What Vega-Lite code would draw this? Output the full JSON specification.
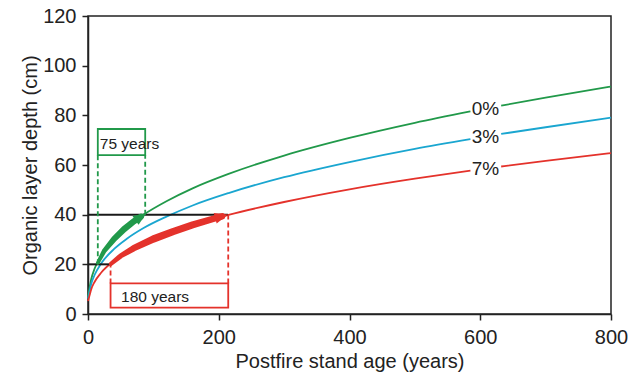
{
  "$schema": "https://vega.github.io/schema/vega-lite/v6.json",
  "width": 523,
  "height": 298,
  "autosize": "none",
  "padding": {"left": 88, "top": 16, "right": 28, "bottom": 63},
  "background": "white",
  "config": {
    "view": {"stroke": "#222", "strokeWidth": 1.5},
    "font": "Liberation Sans",
    "axis": {
      "grid": false, "domainColor": "#222", "domainWidth": 1.5,
      "tickColor": "#222", "tickWidth": 1.5, "tickSize": 6,
      "labelFont": "Liberation Sans", "labelFontSize": 20, "labelColor": "#222",
      "labelPadding": 6, "labelFlush": false,
      "titleFont": "Liberation Sans", "titleFontSize": 20, "titleFontWeight": "normal", "titleColor": "#222"
    }
  },
  "datasets": {
    "curves": [
      {"series": "0%", "seg": "a", "age": 0, "depth": 7.0},
      {"series": "0%", "seg": "a", "age": 2, "depth": 10.0},
      {"series": "0%", "seg": "a", "age": 5, "depth": 14.1},
      {"series": "0%", "seg": "a", "age": 10, "depth": 18.2},
      {"series": "0%", "seg": "a", "age": 20, "depth": 23.5},
      {"series": "0%", "seg": "a", "age": 40, "depth": 30.3},
      {"series": "0%", "seg": "a", "age": 60, "depth": 35.2},
      {"series": "0%", "seg": "a", "age": 85, "depth": 40.0},
      {"series": "0%", "seg": "a", "age": 120, "depth": 45.4},
      {"series": "0%", "seg": "a", "age": 160, "depth": 50.6},
      {"series": "0%", "seg": "a", "age": 215, "depth": 56.4},
      {"series": "0%", "seg": "a", "age": 300, "depth": 63.8},
      {"series": "0%", "seg": "a", "age": 400, "depth": 70.9},
      {"series": "0%", "seg": "a", "age": 500, "depth": 77.0},
      {"series": "0%", "seg": "a", "age": 585, "depth": 81.6},
      {"series": "0%", "seg": "b", "age": 632, "depth": 83.9},
      {"series": "0%", "seg": "b", "age": 700, "depth": 87.1},
      {"series": "0%", "seg": "b", "age": 800, "depth": 91.6},
      {"series": "3%", "seg": "a", "age": 0, "depth": 6.2},
      {"series": "3%", "seg": "a", "age": 2, "depth": 8.7},
      {"series": "3%", "seg": "a", "age": 5, "depth": 12.2},
      {"series": "3%", "seg": "a", "age": 10, "depth": 15.7},
      {"series": "3%", "seg": "a", "age": 20, "depth": 20.3},
      {"series": "3%", "seg": "a", "age": 40, "depth": 26.2},
      {"series": "3%", "seg": "a", "age": 60, "depth": 30.4},
      {"series": "3%", "seg": "a", "age": 85, "depth": 34.6},
      {"series": "3%", "seg": "a", "age": 120, "depth": 39.2},
      {"series": "3%", "seg": "a", "age": 160, "depth": 43.7},
      {"series": "3%", "seg": "a", "age": 215, "depth": 48.7},
      {"series": "3%", "seg": "a", "age": 300, "depth": 55.1},
      {"series": "3%", "seg": "a", "age": 400, "depth": 61.2},
      {"series": "3%", "seg": "a", "age": 500, "depth": 66.5},
      {"series": "3%", "seg": "a", "age": 585, "depth": 70.4},
      {"series": "3%", "seg": "b", "age": 632, "depth": 72.5},
      {"series": "3%", "seg": "b", "age": 700, "depth": 75.2},
      {"series": "3%", "seg": "b", "age": 800, "depth": 79.1},
      {"series": "7%", "seg": "a", "age": 0, "depth": 5.2},
      {"series": "7%", "seg": "a", "age": 2, "depth": 7.1},
      {"series": "7%", "seg": "a", "age": 5, "depth": 10.0},
      {"series": "7%", "seg": "a", "age": 10, "depth": 12.9},
      {"series": "7%", "seg": "a", "age": 20, "depth": 16.6},
      {"series": "7%", "seg": "a", "age": 40, "depth": 21.5},
      {"series": "7%", "seg": "a", "age": 60, "depth": 24.9},
      {"series": "7%", "seg": "a", "age": 85, "depth": 28.3},
      {"series": "7%", "seg": "a", "age": 120, "depth": 32.2},
      {"series": "7%", "seg": "a", "age": 160, "depth": 35.8},
      {"series": "7%", "seg": "a", "age": 215, "depth": 39.9},
      {"series": "7%", "seg": "a", "age": 300, "depth": 45.1},
      {"series": "7%", "seg": "a", "age": 400, "depth": 50.2},
      {"series": "7%", "seg": "a", "age": 500, "depth": 54.5},
      {"series": "7%", "seg": "a", "age": 585, "depth": 57.7},
      {"series": "7%", "seg": "b", "age": 632, "depth": 59.4},
      {"series": "7%", "seg": "b", "age": 700, "depth": 61.7},
      {"series": "7%", "seg": "b", "age": 800, "depth": 64.8}
    ],
    "hlines": [
      {"age": 0, "age2": 214, "depth": 40},
      {"age": 0, "age2": 36, "depth": 20}
    ],
    "dashes": [
      {"series": "0%", "age": 15, "depth": 20, "depth2": 64},
      {"series": "0%", "age": 87.5, "depth": 40, "depth2": 64},
      {"series": "7%", "age": 34.5, "depth": 12.3, "depth2": 20},
      {"series": "7%", "age": 214.5, "depth": 12.3, "depth2": 40}
    ],
    "boxes": [
      {"series": "0%", "age": 15, "age2": 87.5, "depth": 64, "depth2": 74.5},
      {"series": "7%", "age": 34.5, "age2": 214.5, "depth": 2.6, "depth2": 12.3}
    ],
    "boxtext": [
      {"age": 18, "depth": 68.6, "label": "75 years"},
      {"age": 50.5, "depth": 7.0, "label": "180 years"}
    ],
    "serieslabels": [
      {"series": "0%", "age": 608, "depth": 82.7},
      {"series": "3%", "age": 608, "depth": 71.4},
      {"series": "7%", "age": 608, "depth": 58.5}
    ],
    "redarrow": [
      {"t": 0, "age": 35, "depth": 20.2},
      {"t": 0.1, "age": 50, "depth": 23.4},
      {"t": 0.2, "age": 70, "depth": 26.5},
      {"t": 0.4, "age": 100, "depth": 30.2},
      {"t": 0.55, "age": 130, "depth": 33.2},
      {"t": 0.7, "age": 160, "depth": 35.9},
      {"t": 0.85, "age": 190, "depth": 38.2},
      {"t": 1, "age": 205, "depth": 39.3}
    ],
    "greenarrow": [
      {"t": 0, "age": 15, "depth": 20.6},
      {"t": 0.2, "age": 25, "depth": 25.5},
      {"t": 0.4, "age": 40, "depth": 30.3},
      {"t": 0.6, "age": 55, "depth": 34.1},
      {"t": 0.8, "age": 70, "depth": 37.3},
      {"t": 1, "age": 81, "depth": 39.2}
    ],
    "heads": [
      {"series": "0%", "age": 81.2, "depth": 39.2, "dir": -34},
      {"series": "7%", "age": 204.4, "depth": 39.3, "dir": -16}
    ]
  },
  "encoding": {
    "x": {"field": "age", "type": "quantitative",
      "scale": {"domain": [0, 800], "nice": false},
      "axis": {"values": [0, 200, 400, 600, 800], "title": "Postfire stand age (years)", "titlePadding": 4, "labelPadding": 7}},
    "y": {"field": "depth", "type": "quantitative",
      "scale": {"domain": [0, 120], "nice": false},
      "axis": {"values": [0, 20, 40, 60, 80, 100, 120], "title": "Organic layer depth (cm)", "titlePadding": 2}}
  },
  "layer": [
    {
      "data": {"name": "curves"},
      "mark": {"type": "line", "strokeWidth": 1.8, "interpolate": "monotone"},
      "encoding": {
        "color": {"field": "series", "type": "nominal", "legend": null,
          "scale": {"domain": ["0%", "3%", "7%"], "range": ["#21994a", "#1aa6d0", "#e4322b"]}},
        "detail": {"field": "seg", "type": "nominal"}
      }
    },
    {
      "data": {"name": "hlines"},
      "mark": {"type": "rule", "color": "#1a1a1a", "strokeWidth": 2},
      "encoding": {"x2": {"field": "age2"}}
    },
    {
      "data": {"name": "dashes"},
      "mark": {"type": "rule", "strokeWidth": 1.8, "strokeDash": [5, 3]},
      "encoding": {
        "y2": {"field": "depth2"},
        "color": {"field": "series", "type": "nominal", "legend": null}
      }
    },
    {
      "data": {"name": "boxes"},
      "mark": {"type": "rect", "filled": false, "strokeWidth": 1.8},
      "encoding": {
        "x2": {"field": "age2"},
        "y2": {"field": "depth2"},
        "color": {"field": "series", "type": "nominal", "legend": null}
      }
    },
    {
      "data": {"name": "boxtext"},
      "mark": {"type": "text", "align": "left", "baseline": "middle", "fontSize": 15.5, "color": "#222"},
      "encoding": {"text": {"field": "label"}}
    },
    {
      "data": {"name": "serieslabels"},
      "mark": {"type": "text", "align": "center", "baseline": "middle", "fontSize": 19, "color": "#222"},
      "encoding": {"text": {"field": "series"}}
    },
    {
      "data": {"name": "redarrow"},
      "mark": {"type": "trail", "color": "#e4322b"},
      "encoding": {
        "order": {"field": "t", "type": "quantitative"},
        "size": {"field": "t", "type": "quantitative", "legend": null, "scale": {"domain": [0, 0.3, 1], "range": [4, 7.5, 6.5]}}
      }
    },
    {
      "data": {"name": "greenarrow"},
      "mark": {"type": "trail", "color": "#21994a"},
      "encoding": {
        "order": {"field": "t", "type": "quantitative"},
        "size": {"field": "t", "type": "quantitative", "legend": null, "scale": {"domain": [0, 0.5, 1], "range": [3.5, 6.5, 6]}}
      }
    },
    {
      "data": {"name": "heads"},
      "mark": {"type": "point", "filled": true, "opacity": 1, "shape": "M1,0L-1,-0.8L-1,0.8Z", "size": 180},
      "encoding": {
        "angle": {"field": "dir", "type": "quantitative", "scale": null},
        "color": {"field": "series", "type": "nominal", "legend": null}
      }
    }
  ],
  "resolve": {"scale": {"size": "independent"}}
}
